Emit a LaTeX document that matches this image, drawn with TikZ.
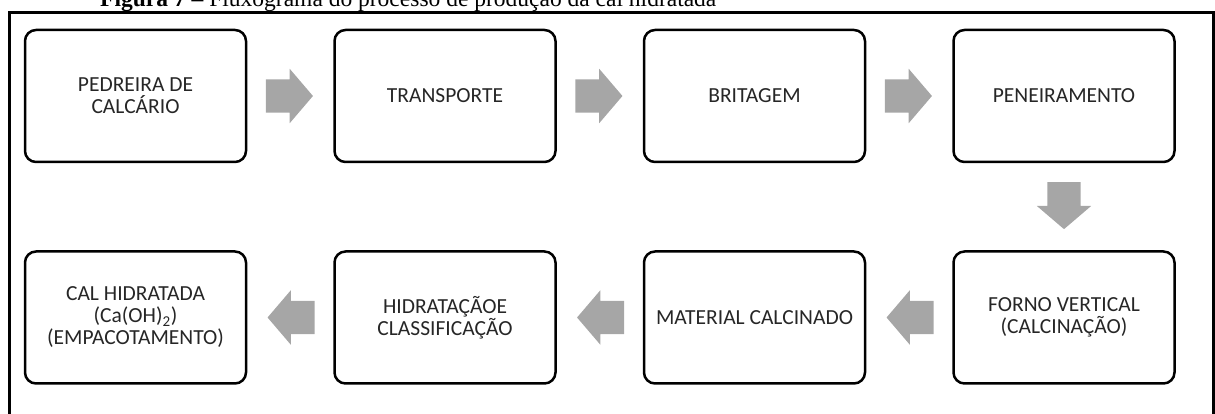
\documentclass[tikz,border=0pt]{standalone}
\usepackage{fontspec}
\setmainfont{Carlito}
\newfontfamily\capfont{Liberation Serif}
\usepackage{tikz}
\usetikzlibrary{positioning,shapes.arrows}
\definecolor{arrowgray}{HTML}{A6A6A6}
\definecolor{textgray}{HTML}{262626}

\begin{document}
\begin{tikzpicture}[x=1pt,y=1pt,node distance=309.5pt,on grid,
   stage/.style={draw,line width=2.5pt,rounded corners=11pt,minimum width=221pt,minimum height=132pt,align=center,font=\fontsize{21.5}{22}\selectfont,text=textgray},
   bigarrow/.style={pos=0.215,anchor=tail,sloped,allow upside down,single arrow,fill=arrowgray,draw=none,inner xsep=0pt,inner ysep=16.5pt,minimum height=47pt,single arrow head extend=10.5pt,single arrow tip angle=99},
   flow/.style={draw=none,to path={-- (\tikztotarget) node[bigarrow] {}}}]
   \useasboundingbox (0,0) rectangle (1215,414);
   \node[stage] (pedreira) at (135.5,318) {PEDREIRA DE\\CALCÁRIO};
   \node[stage] (transporte) [right=of pedreira] {TRANSPORTE};
   \node[stage] (britagem) [right=of transporte] {BRITAGEM};
   \node[stage] (peneira) [right=of britagem] {PENEIRAMENTO};
   \node[stage] (forno) [below=221.5pt of peneira] {FORNO VERTICAL\\(CALCINAÇÃO)};
   \node[stage] (calcinado) [left=of forno] {MATERIAL CALCINADO};
   \node[stage] (hidratacao) [left=of calcinado] {HIDRATAÇÃOE\\CLASSIFICAÇÃO};
   \node[stage] (cal) [left=of hidratacao] {CAL HIDRATADA\\(Ca(OH)\textsubscript{2})\\(EMPACOTAMENTO)};
   \path
   (pedreira) edge[flow] (transporte)
   (transporte) edge[flow] (britagem)
   (britagem) edge[flow] (peneira)
   (peneira) edge[flow] (forno)
   (forno) edge[flow] (calcinado)
   (calcinado) edge[flow] (hidratacao)
   (hidratacao) edge[flow] (cal);
   % moldura e legenda
   \draw[line width=3.5pt] (9.5,-20) |- (1213.5,401.5) -- (1213.5,-20);
   \node[anchor=base west,font=\capfont\fontsize{23.5}{27}\selectfont,inner sep=0pt] (legenda) at (100,407) {\textbf{Figura 7 –} Fluxograma do processo de produção da cal hidratada};
\end{tikzpicture}
\end{document}
